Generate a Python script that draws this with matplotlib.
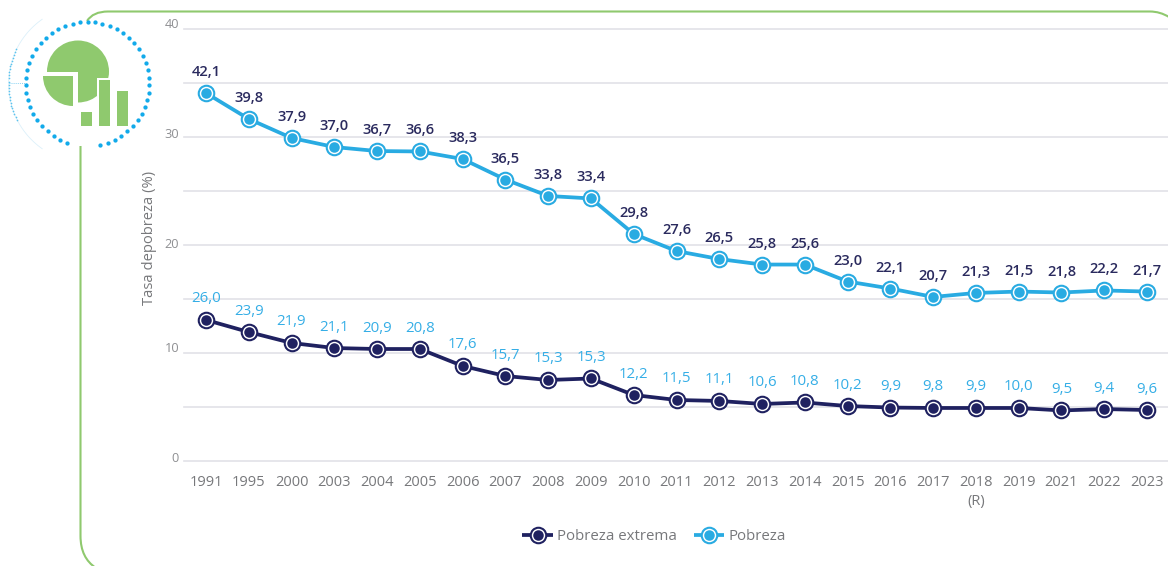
import numpy as np
import matplotlib
matplotlib.use("Agg")
import matplotlib.pyplot as plt
from matplotlib.patches import Wedge, Rectangle, PathPatch
from matplotlib.path import Path
from matplotlib.lines import Line2D
from matplotlib.legend_handler import HandlerLine2D

plt.rcParams['font.family'] = ['Open Sans', 'DejaVu Sans']

years = ['1991', '1995', '2000', '2003', '2004', '2005', '2006', '2007', '2008', '2009', '2010', '2011',
         '2012', '2013', '2014', '2015', '2016', '2017', '2018\n(R)', '2019', '2021', '2022', '2023']
# Printed labels
pobreza_labels = ['42,1', '39,8', '37,9', '37,0', '36,7', '36,6', '38,3', '36,5', '33,8', '33,4', '29,8', '27,6',
                  '26,5', '25,8', '25,6', '23,0', '22,1', '20,7', '21,3', '21,5', '21,8', '22,2', '21,7']
extrema_labels = ['26,0', '23,9', '21,9', '21,1', '20,9', '20,8', '17,6', '15,7', '15,3', '15,3', '12,2', '11,5',
                  '11,1', '10,6', '10,8', '10,2', '9,9', '9,8', '9,9', '10,0', '9,5', '9,4', '9,6']
# Heights as drawn against the printed axis
pobreza_y = [34.07, 31.67, 29.91, 29.07, 28.70, 28.66, 27.96, 26.06, 24.54, 24.31, 21.02, 19.44,
             18.70, 18.19, 18.19, 16.62, 15.97, 15.19, 15.56, 15.69, 15.60, 15.79, 15.69]
extrema_y = [13.06, 11.94, 10.93, 10.46, 10.37, 10.37, 8.80, 7.87, 7.50, 7.64, 6.11, 5.65,
             5.56, 5.28, 5.42, 5.09, 4.95, 4.91, 4.91, 4.91, 4.68, 4.81, 4.72]
grid_values = [0, 5, 10, 15, 20, 25, 30, 35, 40]
ytick_values = [0, 10, 20, 30, 40]

NAVY = '#1f2160'
BLUE = '#29abe2'
GREEN = '#8fc96e'
GRID = '#e2e2e8'
GRAY = '#77787b'

W, H = 1168, 566
fig = plt.figure(figsize=(W / 100, H / 100), dpi=100, facecolor='white')

# decoration layer in pixel coordinates
bg = fig.add_axes([0, 0, 1, 1], zorder=0)
bg.set_xlim(0, W)
bg.set_ylim(H, 0)
bg.axis('off')
border = Path([(80.5, 146), (80.5, 536), (80.5, 558), (96, 568),
               (87, 21), (93, 11.5), (108, 11.5), (1150, 11.5), (1160, 11.5), (1169, 17)],
              [Path.MOVETO, Path.LINETO, Path.CURVE3, Path.CURVE3,
               Path.MOVETO, Path.CURVE3, Path.CURVE3, Path.LINETO, Path.CURVE3, Path.CURVE3])
bg.add_patch(PathPatch(border, fc='none', ec=GREEN, lw=1.5))

cx, cy, r = 87.5, 84, 62
ang = np.deg2rad(np.arange(-78, 254, 7.0))
bg.scatter(cx + r * np.cos(ang), cy - r * np.sin(ang), s=9.5, color='#12aaea', lw=0, zorder=3)
ang2 = np.deg2rad(np.arange(125, 236, 1.0))
bg.plot(cx + 79 * np.cos(ang2), cy - 79 * np.sin(ang2), color='#dcf0fa', lw=0.6, zorder=2)
ang3 = np.deg2rad(np.arange(154, 207, 2.2))
bg.scatter(cx + 79 * np.cos(ang3), cy - 79 * np.sin(ang3), s=1.5, color='#5cc3ee', lw=0, zorder=2)
bg.plot([9, 26], [83, 83], color='#5cc3ee', lw=0.6, ls=(0, (1, 1.5)), zorder=2)

# pie icon
bg.add_patch(Wedge((78, 71.5), 31, 0, 360, fc=GREEN, ec='none', zorder=3))
bg.add_patch(Rectangle((40, 71.5), 38, 40, fc='white', ec='none', zorder=4))
bg.add_patch(Wedge((73, 76), 30, 90, 180, fc=GREEN, ec='none', zorder=5))
for x0, x1, top in [(81, 92, 112), (99, 110, 80), (117, 128, 91)]:
    bg.add_patch(Rectangle((x0 - 2, top - 2), x1 - x0 + 4, 126 - top + 4, fc='white', ec='none', zorder=6))
    bg.add_patch(Rectangle((x0, top), x1 - x0, 126 - top, fc=GREEN, ec='none', zorder=7))

# chart
ax = fig.add_axes([184 / W, (H - 461) / H, (W - 184) / W, (461 - 29) / H], zorder=2)
ax.patch.set_alpha(0)
x = np.arange(len(years))
step = (1147 - 206) / 22
ax.set_xlim(-22 / step, (W - 206) / step)
ax.set_ylim(0, 40)
for s in ax.spines.values():
    s.set_visible(False)
ax.set_yticks(grid_values)
ax.set_yticklabels([])
ax.grid(axis='y', color=GRID, lw=1.2, clip_on=False)
ax.set_axisbelow(True)
ax.tick_params(axis='y', length=0)
ax.set_xticks(x)
ax.set_xticklabels(years, fontsize=10.5, color=GRAY, linespacing=1.4)
ax.tick_params(axis='x', length=0, pad=10)

ytick_shift = {0: 3, 10: 4, 20: 0, 30: 2, 40: 5}
for v in ytick_values:
    ax.annotate(str(v), (0, v), xycoords=('axes fraction', 'data'), xytext=(-5, ytick_shift[v]),
                textcoords='offset pixels', ha='right', va='center', fontsize=9.2, color='#8e8f92')
fig.text(149.5 / W, (H - 238) / H, 'Tasa depobreza (%)', rotation=90, ha='center', va='center',
         fontsize=10.6, color=GRAY)

OUTER = 15.5 * 0.72
DOT = 10.5 * 0.72


def series(vals, color, name):
    ln, = ax.plot(x, vals, color=color, lw=2.7, solid_capstyle='butt', zorder=3, label=name,
                  marker='o', ms=OUTER, mfc='white', mec=color, mew=1.5)
    ax.plot(x, vals, ls='none', marker='o', ms=DOT, mfc=color, mec='none', zorder=4)
    return ln


l1 = series(extrema_y, NAVY, 'Pobreza extrema')
l2 = series(pobreza_y, BLUE, 'Pobreza')

for xi, yi, t in zip(x, pobreza_y, pobreza_labels):
    ax.annotate(t, (xi, yi), xytext=(0, 21), textcoords='offset pixels', ha='center', va='center',
                fontsize=10.6, color='#2a2a5e', fontweight='semibold', zorder=6)
for xi, yi, t in zip(x, extrema_y, extrema_labels):
    ax.annotate(t, (xi, yi), xytext=(0, 21), textcoords='offset pixels', ha='center', va='center',
                fontsize=10.8, color='#35aee6', zorder=6)


class RingHandler(HandlerLine2D):
    def create_artists(self, legend, orig_handle, xdescent, ydescent, width, height, fontsize, trans):
        arts = super().create_artists(legend, orig_handle, xdescent, ydescent, width, height, fontsize, trans)
        c = orig_handle.get_color()
        dot = Line2D([width / 2 - xdescent], [(height - ydescent) / 2], ls='none', marker='o', ms=DOT,
                     mfc=c, mec='none', transform=trans)
        return list(arts) + [dot]


leg = fig.legend(handles=[l1, l2], loc='center', bbox_to_anchor=(654 / W, (H - 537) / H), ncol=2, frameon=False,
                 fontsize=10.8, labelcolor=GRAY, handlelength=2.05, handletextpad=0.28, columnspacing=1.1,
                 handler_map={Line2D: RingHandler(numpoints=1)})

fig.savefig('out.png', dpi=100)
